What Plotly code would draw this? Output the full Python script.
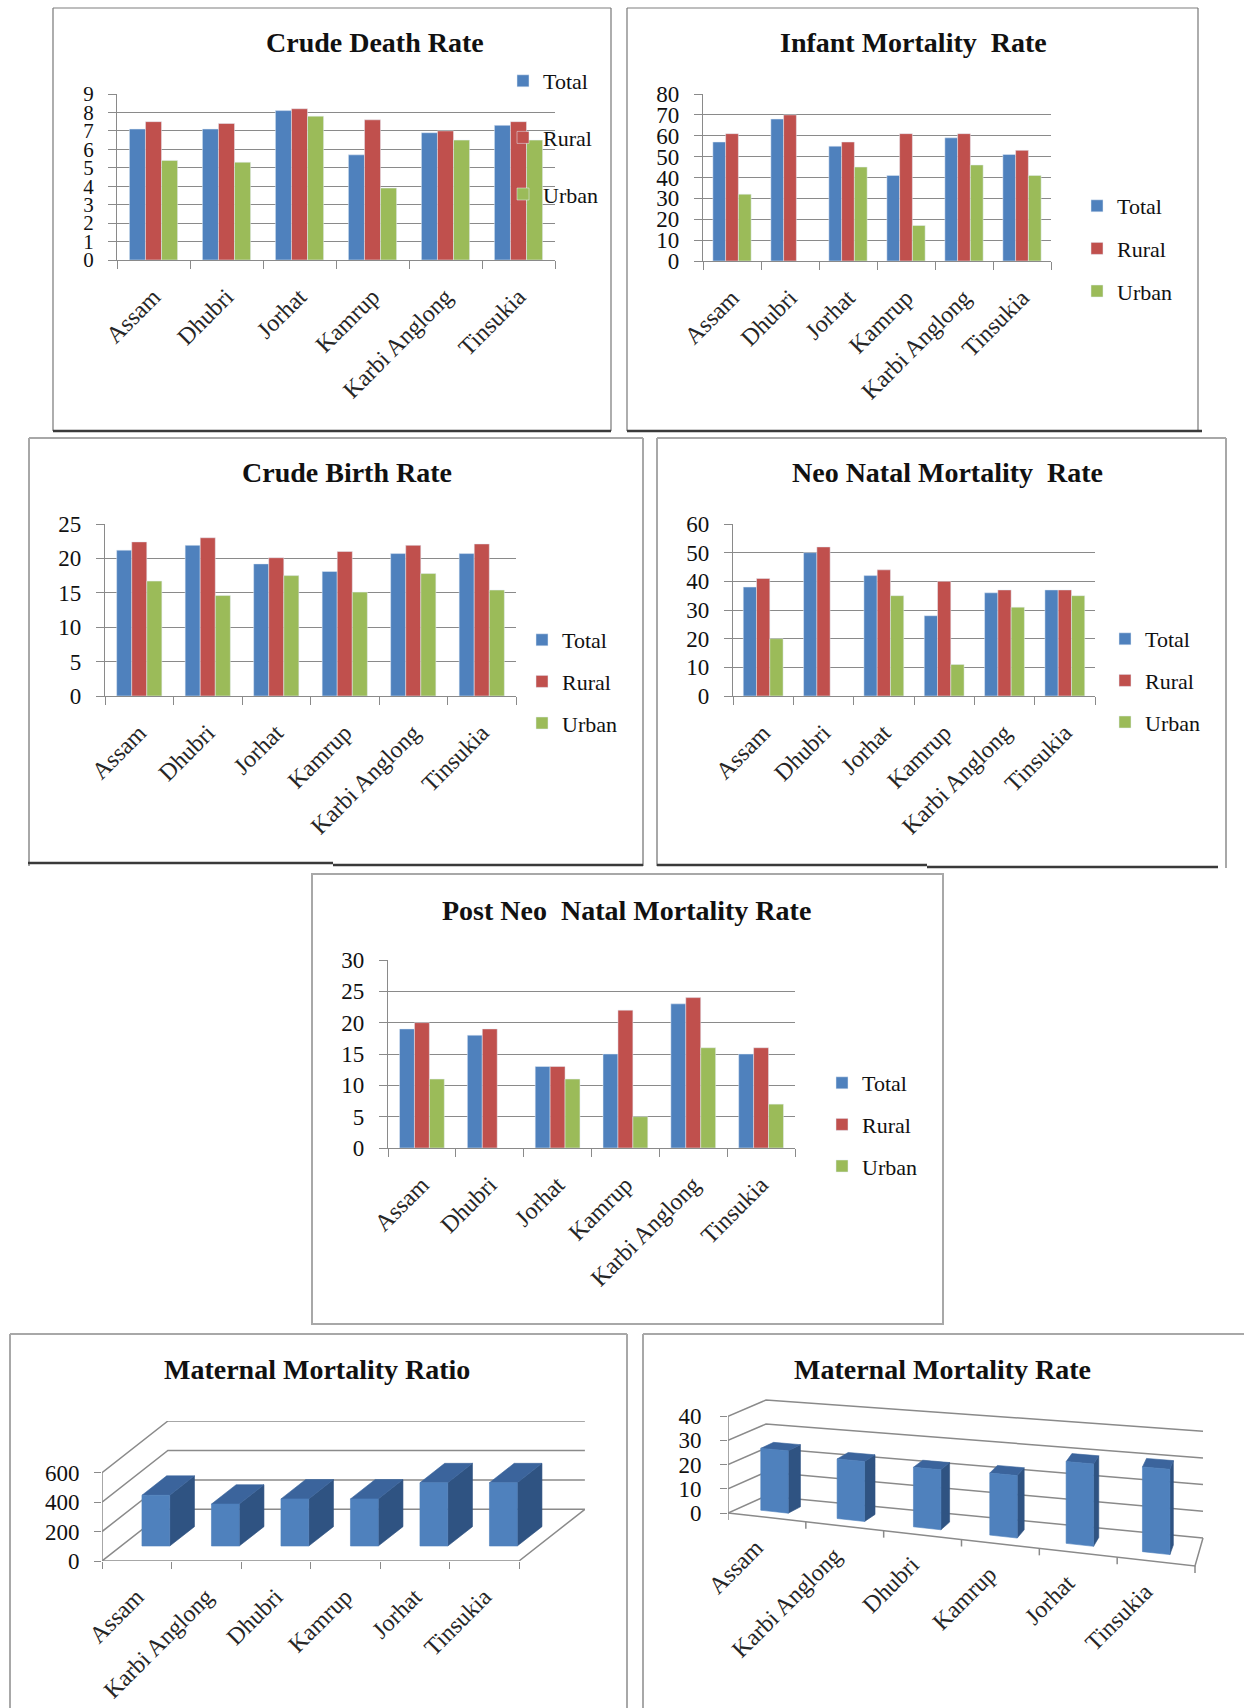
import plotly.graph_objects as go

W, H = 1244, 1708

# ---- data ----
districts = ["Assam", "Dhubri", "Jorhat", "Kamrup", "Karbi Anglong", "Tinsukia"]
series = ["Total", "Rural", "Urban"]

cdr_total = [7.1, 7.1, 8.1, 5.7, 6.9, 7.3]
cdr_rural = [7.5, 7.4, 8.2, 7.6, 7.0, 7.5]
cdr_urban = [5.4, 5.3, 7.8, 3.9, 6.5, 6.5]

imr_total = [57, 68, 55, 41, 59, 51]
imr_rural = [61, 70, 57, 61, 61, 53]
imr_urban = [32, None, 45, 17, 46, 41]

cbr_total = [21.2, 21.9, 19.2, 18.1, 20.7, 20.7]
cbr_rural = [22.4, 23.0, 20.1, 21.0, 21.9, 22.1]
cbr_urban = [16.7, 14.6, 17.5, 15.1, 17.8, 15.4]

nnmr_total = [38, 50, 42, 28, 36, 37]
nnmr_rural = [41, 52, 44, 40, 37, 37]
nnmr_urban = [20, None, 35, 11, 31, 35]

pnmr_total = [19, 18, 13, 15, 23, 15]
pnmr_rural = [20, 19, 13, 22, 24, 16]
pnmr_urban = [11, None, 11, 5, 16, 7]

mm_districts = ["Assam", "Karbi Anglong", "Dhubri", "Kamrup", "Jorhat", "Tinsukia"]
mm_ratio = [345, 285, 320, 320, 430, 430]
mm_rate = [25.5, 24, 23.5, 24, 31, 31.5]

# ---- styling ----
COLORS = {"Total": "#4F81BD", "Rural": "#C0504D", "Urban": "#9BBB59"}
GRID = "#8a8a8a"
SERIF = "Liberation Serif, Times New Roman, serif"
FRONT, TOP, SIDE = "#4F81BD", "#3B649C", "#2F5382"
LEG_ITEM = 32  # height of one legend row at font size 22


def fx(x):
    return x / W


def fy(y):
    return 1 - y / H


def ax_names(n):
    return ("x", "y") if n == 1 else (f"x{n}", f"y{n}")


def ax_keys(n):
    return ("xaxis", "yaxis") if n == 1 else (f"xaxis{n}", f"yaxis{n}")


def title_note(text, x, y):
    return dict(
        text=f"<b>{text}</b>", x=fx(x), y=fy(y), xref="paper", yref="paper",
        xanchor="center", yanchor="middle", showarrow=False,
        font=dict(family=SERIF, size=28, color="#111111"),
    )


bar_panels = [
    dict(title="Crude Death Rate", data=(cdr_total, cdr_rural, cdr_urban), ymax=9, dtick=1,
         box=(117, 94, 555, 260), title_at=(375, 43), legend_at=(526, 82), gap=57, tsize=21),
    dict(title="Infant Mortality  Rate", data=(imr_total, imr_rural, imr_urban), ymax=80, dtick=10,
         box=(703, 94, 1051, 261), title_at=(913, 43), legend_at=(1100, 207), gap=43, tsize=23),
    dict(title="Crude Birth Rate", data=(cbr_total, cbr_rural, cbr_urban), ymax=25, dtick=5,
         box=(105, 524, 516, 696), title_at=(347, 473), legend_at=(545, 641), gap=42, tsize=23),
    dict(title="Neo Natal Mortality  Rate", data=(nnmr_total, nnmr_rural, nnmr_urban), ymax=60, dtick=10,
         box=(733, 524, 1095, 696), title_at=(947, 473), legend_at=(1128, 640), gap=42, tsize=23),
    dict(title="Post Neo  Natal Mortality Rate", data=(pnmr_total, pnmr_rural, pnmr_urban), ymax=30, dtick=5,
         box=(388, 960, 795, 1148), title_at=(626, 910), legend_at=(845, 1084), gap=42, tsize=23),
]

fig = go.Figure()
layout = {}
annotations = []

for i, p in enumerate(bar_panels):
    n = i + 1
    xn, yn = ax_names(n)
    xk, yk = ax_keys(n)
    leg = "legend" if n == 1 else f"legend{n}"
    for name, vals in zip(series, p["data"]):
        fig.add_trace(go.Bar(
            x=districts, y=vals, name=name, marker_color=COLORS[name],
            xaxis=xn, yaxis=yn, legend=leg, legendgroup=f"{leg}-{name}",
        ))
    l, t, r, b = p["box"]
    layout[xk] = dict(
        domain=[fx(l), fx(r)], anchor=yn, type="category",
        tickson="boundaries", ticks="outside", ticklen=8, tickcolor=GRID, tickwidth=1.3,
        showline=True, linecolor=GRID, linewidth=1.3, showgrid=False,
        tickangle=-45, ticklabelstandoff=12,
        tickfont=dict(family=SERIF, size=24, color="#262626"),
    )
    layout[yk] = dict(
        domain=[fy(b), fy(t)], anchor=xn, range=[0, p["ymax"]], tick0=0, dtick=p["dtick"],
        ticks="outside", ticklen=8, tickcolor=GRID, tickwidth=1.3,
        showgrid=True, gridcolor=GRID, gridwidth=1.3, zeroline=False,
        showline=True, linecolor=GRID, linewidth=1.3, ticklabelstandoff=10,
        tickfont=dict(family=SERIF, size=p["tsize"], color="#111111"),
    )
    cx, cy = p["legend_at"]
    layout[leg] = dict(
        x=fx(cx - 23), y=fy(cy - 22), xanchor="left", yanchor="top",
        tracegroupgap=p["gap"] - LEG_ITEM, bgcolor="rgba(0,0,0,0)",
        font=dict(family=SERIF, size=22, color="#111111"),
    )
    annotations.append(title_note(p["title"], *p["title_at"]))

# ---- panel 6: Maternal Mortality Ratio (oblique 3D columns) ----
R_DX, R_DY = 0.948, 351.0    # depth vector, in category / value units
R_T1, R_T2, R_HW = 0.29, 0.665, 0.2


def ob(c, t, v):
    return c + t * R_DX, v + t * R_DY


def add_line_path(points, xs, ys):
    for pt in points:
        xs.append(pt[0])
        ys.append(pt[1])
    xs.append(None)
    ys.append(None)


def add_faces(polys, color, xn, yn):
    xs, ys = [], []
    for poly in polys:
        add_line_path(poly + [poly[0]], xs, ys)
    fig.add_trace(go.Scatter(
        x=xs, y=ys, mode="lines", fill="toself", fillcolor=color,
        line=dict(width=0.6, color=color), xaxis=xn, yaxis=yn,
        showlegend=False, hoverinfo="skip",
    ))


n6 = len(mm_districts)
ratio_ticks = [0, 200, 400, 600]
xs, ys = [], []
for v in ratio_ticks:
    add_line_path([ob(-0.5, 0, v), ob(-0.5, 1, v), ob(n6 - 0.5, 1, v)], xs, ys)
add_line_path([ob(-0.5, 0, 0), ob(-0.5, 0, ratio_ticks[-1])], xs, ys)
add_line_path([ob(-0.5, 0, 0), ob(n6 - 0.5, 0, 0), ob(n6 - 0.5, 1, 0)], xs, ys)
fig.add_trace(go.Scatter(x=xs, y=ys, mode="lines", line=dict(color=GRID, width=1.5),
                         xaxis="x6", yaxis="y6", showlegend=False, hoverinfo="skip"))

fronts, tops, sides = [], [], []
for i, v in enumerate(mm_ratio):
    cl, cr = i - R_HW, i + R_HW
    fronts.append([ob(cl, R_T1, 0), ob(cr, R_T1, 0), ob(cr, R_T1, v), ob(cl, R_T1, v)])
    tops.append([ob(cl, R_T1, v), ob(cr, R_T1, v), ob(cr, R_T2, v), ob(cl, R_T2, v)])
    sides.append([ob(cr, R_T1, 0), ob(cr, R_T2, 0), ob(cr, R_T2, v), ob(cr, R_T1, v)])
add_faces(sides, SIDE, "x6", "y6")
add_faces(tops, TOP, "x6", "y6")
add_faces(fronts, FRONT, "x6", "y6")

P6_LEFT, P6_FLOOR, P6_CAT, P6_K = 102, 1561, 69.5, 0.1472
x6_hi = n6 - 0.5 + R_DX
y6_hi = ratio_ticks[-1] + R_DY
layout["xaxis6"] = dict(
    domain=[fx(P6_LEFT), fx(P6_LEFT + (x6_hi + 0.5) * P6_CAT)], anchor="y6",
    range=[-0.5, x6_hi], tickvals=list(range(n6)), ticktext=mm_districts,
    ticks="", showgrid=False, zeroline=False, showline=False,
    tickangle=-45, ticklabelstandoff=16,
    tickfont=dict(family=SERIF, size=24, color="#262626"),
    minor=dict(tickvals=[k - 0.5 for k in range(n6 + 1)], ticks="outside", ticklen=7,
               tickcolor=GRID, tickwidth=1.3, showgrid=False),
)
layout["yaxis6"] = dict(
    domain=[fy(P6_FLOOR), fy(P6_FLOOR - y6_hi * P6_K)], anchor="x6",
    range=[0, y6_hi], tickvals=ratio_ticks, ticks="outside", ticklen=7, tickcolor=GRID,
    tickwidth=1.3, showgrid=False, zeroline=False, showline=False, ticklabelstandoff=10,
    tickfont=dict(family=SERIF, size=23, color="#111111"),
)
annotations.append(title_note("Maternal Mortality Ratio", 317, 1369))

# ---- panel 7: Maternal Mortality Rate (perspective 3D columns) ----
# floor corners in page pixels: front-left, front-right, back-left, back-right
C_FL, C_FR, C_BL, C_BR = (728, 1513), (1195, 1566), (766, 1496), (1203, 1538)
K_FL, K_FR, K_BL, K_BR = 2.42, 2.75, 2.4, 2.67   # pixels per unit of value


def bil(s, t, a, b, c, d):
    return (1 - s) * (1 - t) * a + s * (1 - t) * b + (1 - s) * t * c + s * t * d


def pv(s, t, v):
    bx = bil(s, t, C_FL[0], C_FR[0], C_BL[0], C_BR[0])
    by = bil(s, t, C_FL[1], C_FR[1], C_BL[1], C_BR[1])
    k = bil(s, t, K_FL, K_FR, K_BL, K_BR)
    return bx, (C_FL[1] - (by - v * k)) / K_FL


n7 = len(mm_districts)
rate_ticks = [0, 10, 20, 30, 40]
xs, ys = [], []
for v in rate_ticks:
    add_line_path([pv(0, 0, v), pv(0, 1, v), pv(1, 1, v)], xs, ys)
add_line_path([pv(0, 0, 0), pv(0, 0, rate_ticks[-1])], xs, ys)
add_line_path([pv(0, 0, 0), pv(1, 0, 0), pv(1, 1, 0)], xs, ys)
for k in range(n7 + 1):
    px0, py0 = pv(k / n7, 0, 0)
    add_line_path([(px0, py0), (px0, py0 - 7 / K_FL)], xs, ys)
fig.add_trace(go.Scatter(x=xs, y=ys, mode="lines", line=dict(color=GRID, width=1.5),
                         xaxis="x7", yaxis="y7", showlegend=False, hoverinfo="skip"))

Q_T1, Q_T2 = 0.3, 0.65
fronts, tops, sides = [], [], []
for i, v in enumerate(mm_rate):
    sl, sr = (i + 0.28) / n7, (i + 0.64) / n7
    fronts.append([pv(sl, Q_T1, 0), pv(sr, Q_T1, 0), pv(sr, Q_T1, v), pv(sl, Q_T1, v)])
    tops.append([pv(sl, Q_T1, v), pv(sr, Q_T1, v), pv(sr, Q_T2, v), pv(sl, Q_T2, v)])
    sides.append([pv(sr, Q_T1, 0), pv(sr, Q_T2, 0), pv(sr, Q_T2, v), pv(sr, Q_T1, v)])
add_faces(sides, SIDE, "x7", "y7")
add_faces(tops, TOP, "x7", "y7")
add_faces(fronts, FRONT, "x7", "y7")

for i, name in enumerate(mm_districts):
    ex, ey = pv((i + 0.5) / n7, 0, 0)
    annotations.append(dict(
        text=name, x=ex, y=ey, xref="x7", yref="y7", showarrow=False,
        textangle=-45, xanchor="right", yanchor="top", xshift=4, yshift=-14,
        font=dict(family=SERIF, size=24, color="#262626"),
    ))

P7_TOP, P7_BOT, P7_RIGHT = 1395, 1575, 1215
layout["xaxis7"] = dict(
    domain=[fx(C_FL[0]), fx(P7_RIGHT)], anchor="y7", range=[C_FL[0], P7_RIGHT],
    visible=False,
)
layout["yaxis7"] = dict(
    domain=[fy(P7_BOT), fy(P7_TOP)], anchor="x7",
    range=[(C_FL[1] - P7_BOT) / K_FL, (C_FL[1] - P7_TOP) / K_FL],
    tickvals=rate_ticks, ticks="outside", ticklen=7, tickcolor=GRID, tickwidth=1.3,
    showgrid=False, zeroline=False, showline=False, ticklabelstandoff=14,
    tickfont=dict(family=SERIF, size=23, color="#111111"),
)
annotations.append(title_note("Maternal Mortality Rate", 942, 1369))

# ---- panel frames ----
shapes = []


def frame_line(x0, y0, x1, y1, color, width):
    shapes.append(dict(type="line", xref="paper", yref="paper",
                       x0=fx(x0), y0=fy(y0), x1=fx(x1), y1=fy(y1),
                       line=dict(color=color, width=width)))


LIGHT, DARK = "#a8a8a8", "#3a3a3a"
# crude death rate
frame_line(53, 8, 611, 8, LIGHT, 1.5)
frame_line(53, 8, 53, 431, "#777777", 1.2)
frame_line(611, 8, 611, 431, "#777777", 1.2)
frame_line(53, 431, 611, 431, DARK, 2.5)
# infant mortality
frame_line(627, 8, 1198, 8, LIGHT, 1.5)
frame_line(627, 8, 627, 431, "#777777", 1.2)
frame_line(1198, 8, 1198, 431, "#777777", 1.2)
frame_line(627, 431, 1202, 431, DARK, 2.5)
# crude birth rate
frame_line(29, 438, 643, 438, LIGHT, 2)
frame_line(29, 438, 29, 866, LIGHT, 2)
frame_line(643, 438, 643, 866, LIGHT, 2)
frame_line(28, 863, 333, 863, DARK, 2.5)
frame_line(333, 865, 643, 865, DARK, 2.5)
# neo natal
frame_line(657, 438, 1226, 438, LIGHT, 2)
frame_line(657, 438, 657, 866, LIGHT, 2)
frame_line(1226, 438, 1226, 868, LIGHT, 2)
frame_line(657, 865, 927, 865, DARK, 2.5)
frame_line(927, 867, 1218, 867, DARK, 2.5)
# post neo natal
shapes.append(dict(type="rect", xref="paper", yref="paper",
                   x0=fx(312), y0=fy(874), x1=fx(943), y1=fy(1324),
                   line=dict(color=LIGHT, width=2)))
# maternal mortality ratio / rate
frame_line(10, 1334, 627, 1334, LIGHT, 2)
frame_line(10, 1334, 10, 1708, LIGHT, 2)
frame_line(627, 1334, 627, 1708, LIGHT, 2)
frame_line(643, 1334, 1244, 1334, LIGHT, 2)
frame_line(643, 1334, 643, 1708, LIGHT, 2)

fig.update_layout(
    width=W, height=H, margin=dict(l=0, r=0, t=0, b=0, pad=0, autoexpand=False),
    paper_bgcolor="white", plot_bgcolor="rgba(0,0,0,0)",
    barmode="group", bargap=0.34, bargroupgap=0,
    font=dict(family=SERIF, color="#111111"),
    annotations=annotations, shapes=shapes,
    **layout,
)

fig.write_html("out.html", config={"displayModeBar": False},
               post_script="document.body.style.margin='0';")
